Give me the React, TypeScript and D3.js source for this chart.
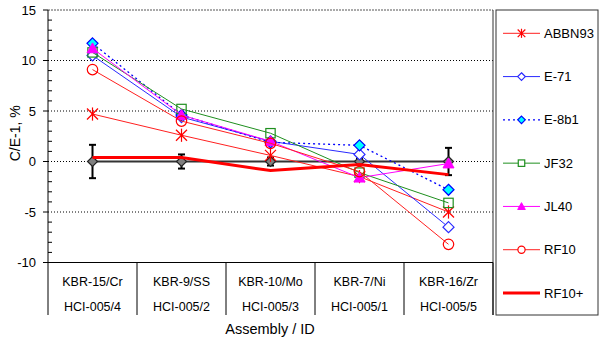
import React from "react";
import * as d3 from "d3";

const assemblies = ["KBR-15/Cr", "KBR-9/SS", "KBR-10/Mo", "KBR-7/Ni", "KBR-16/Zr"];
const ids = ["HCI-005/4", "HCI-005/2", "HCI-005/3", "HCI-005/1", "HCI-005/5"];
const yTicks = [-10, -5, 0, 5, 10, 15];
const gridValues = [-5, 0, 5, 10, 15];

const refValues = [0, 0, 0, 0, 0];
const refErrors = [1.65, 0.7, 0.4, 0.3, 1.35];

const abbn93 = [4.7, 2.6, 0.6, -1.5, -5.0];
const e71 = [10.5, 4.4, 2.0, 0.7, -6.5];
const e8b1 = [11.7, 4.6, 1.9, 1.6, -2.8];
const jf32 = [10.8, 5.2, 2.8, -1.1, -4.1];
const jl40 = [11.2, 4.6, 2.0, -1.6, -0.2];
const rf10 = [9.1, 4.0, 1.8, -1.0, -8.2];
const rf10plus = [0.4, 0.4, -0.9, -0.3, -1.3];

type Series = {
  name: string;
  values: number[];
  color: string;
  width: number;
  dash?: string;
  marker: "star" | "diamond" | "square" | "triangle" | "circle" | "none";
  fill: string;
  mstroke: string;
};

const series: Series[] = [
  { name: "ABBN93", values: abbn93, color: "#ff2020", width: 1, marker: "star", fill: "none", mstroke: "#ff0000" },
  { name: "E-71", values: e71, color: "#2a2aff", width: 1, marker: "diamond", fill: "#ffffff", mstroke: "#2a2aff" },
  { name: "E-8b1", values: e8b1, color: "#0000ff", width: 1.3, dash: "2,3", marker: "diamond", fill: "#00ffff", mstroke: "#0000ff" },
  { name: "JF32", values: jf32, color: "#1f8f1f", width: 1, marker: "square", fill: "none", mstroke: "#1f8f1f" },
  { name: "JL40", values: jl40, color: "#ff00ff", width: 1, marker: "triangle", fill: "#ff00ff", mstroke: "#ff00ff" },
  { name: "RF10", values: rf10, color: "#ff2020", width: 1, marker: "circle", fill: "none", mstroke: "#ff0000" },
  { name: "RF10+", values: rf10plus, color: "#ff0000", width: 3, marker: "none", fill: "none", mstroke: "#ff0000" },
];

const FONT = "'Liberation Sans', Arial, sans-serif";

function Marker({ type, x, y, s, fill, stroke }: { type: string; x: number; y: number; s: number; fill: string; stroke: string }) {
  if (type === "star") {
    return (
      <g stroke={stroke} strokeWidth={1.2}>
        <line x1={x - s} y1={y - s} x2={x + s} y2={y + s} />
        <line x1={x - s} y1={y + s} x2={x + s} y2={y - s} />
        <line x1={x} y1={y - s * 1.2} x2={x} y2={y + s * 1.2} />
      </g>
    );
  }
  if (type === "diamond") {
    const d = `M${x},${y - s}L${x + s},${y}L${x},${y + s}L${x - s},${y}Z`;
    return <path d={d} fill={fill} stroke={stroke} strokeWidth={1.2} />;
  }
  if (type === "square") {
    return <rect x={x - s * 0.85} y={y - s * 0.85} width={s * 1.7} height={s * 1.7} fill={fill} stroke={stroke} strokeWidth={1.2} />;
  }
  if (type === "triangle") {
    const d = `M${x},${y - s}L${x + s},${y + s * 0.8}L${x - s},${y + s * 0.8}Z`;
    return <path d={d} fill={fill} stroke={stroke} strokeWidth={1} />;
  }
  if (type === "circle") {
    return <circle cx={x} cy={y} r={s * 0.95} fill={fill} stroke={stroke} strokeWidth={1.2} />;
  }
  return null;
}

export default function App() {
  const left = 48;
  const right = 493;
  const top = 10;
  const bottom = 262.5;

  const x = d3.scaleBand<string>().domain(assemblies).range([left, right]).padding(0);
  const cx = (i: number) => (x(assemblies[i]) as number) + x.bandwidth() / 2;
  const y = d3.scaleLinear().domain([-10, 15]).range([bottom, top]);

  const line = d3
    .line<number>()
    .x((_, i) => cx(i))
    .y((v) => y(v));

  const minorTicks = d3.range(-10, 16, 1).filter((v) => v % 5 !== 0);
  const catBottom = 315;
  const legendY = d3.scaleLinear().domain([0, 6]).range([33.3, 293]);

  return (
    <svg width={599} height={342} style={{ position: "absolute", left: 0, top: 0, fontFamily: FONT }}>
      <rect x={0} y={0} width={599} height={342} fill="#ffffff" />
      {/* gridlines */}
      {gridValues.map((v) => (
        <line key={v} x1={left} x2={right} y1={y(v)} y2={y(v)} stroke={v === 15 ? "#555" : "#000"} strokeWidth={1} strokeDasharray={v === 15 ? "2,1" : "1,2"} />
      ))}
      {/* right border */}
      <line x1={right} x2={right} y1={top} y2={catBottom} stroke="#333" strokeWidth={1} />
      {/* y axis */}
      <line x1={left} x2={left} y1={top} y2={catBottom} stroke="#000" strokeWidth={1} />
      {yTicks.map((v) => (
        <g key={v}>
          <line x1={left - 5} x2={left} y1={y(v)} y2={y(v)} stroke="#000" />
          <text x={36} y={y(v)} dy="0.35em" textAnchor="end" fontSize={13} fill="#000">
            {v}
          </text>
        </g>
      ))}
      {minorTicks.map((v) => (
        <line key={v} x1={left} x2={left + 4} y1={y(v)} y2={y(v)} stroke="#000" />
      ))}
      {/* x axis */}
      <line x1={left} x2={right} y1={bottom} y2={bottom} stroke="#000" strokeWidth={1} />
      {assemblies.map((a, i) => (
        <g key={a}>
          <line x1={(x(a) as number) + x.bandwidth()} x2={(x(a) as number) + x.bandwidth()} y1={bottom} y2={catBottom} stroke="#000" />
          <text x={cx(i)} y={282} dy="0.35em" textAnchor="middle" fontSize={12.5} fill="#000">
            {a}
          </text>
          <text x={cx(i)} y={306.5} dy="0.35em" textAnchor="middle" fontSize={12.5} fill="#000">
            {ids[i]}
          </text>
        </g>
      ))}
      <text x={270} y={329} dy="0.35em" textAnchor="middle" fontSize={14.5} fill="#000">
        Assembly / ID
      </text>
      <text transform={`translate(15,${(top + bottom) / 2 - 3}) rotate(-90)`} dy="0.35em" textAnchor="middle" fontSize={14} fill="#000">
        C/E-1, %
      </text>

      {/* reference series */}
      <path d={line(refValues) as string} fill="none" stroke="#333" strokeWidth={2} />
      {refValues.map((v, i) => (
        <g key={i} stroke="#000" strokeWidth={2}>
          <line x1={cx(i)} x2={cx(i)} y1={y(v + refErrors[i])} y2={y(v - refErrors[i])} />
          <line x1={cx(i) - 3.5} x2={cx(i) + 3.5} y1={y(v + refErrors[i])} y2={y(v + refErrors[i])} />
          <line x1={cx(i) - 3.5} x2={cx(i) + 3.5} y1={y(v - refErrors[i])} y2={y(v - refErrors[i])} />
        </g>
      ))}
      {refValues.map((v, i) => (
        <Marker key={i} type="diamond" x={cx(i)} y={y(v)} s={5} fill="#808080" stroke="#222" />
      ))}

      {/* series */}
      {series.map((s) => (
        <g key={s.name}>
          <path d={line(s.values) as string} fill="none" stroke={s.color} strokeWidth={s.width} strokeDasharray={s.dash} />
          {s.values.map((v, i) => (
            <Marker key={i} type={s.marker} x={cx(i)} y={y(v)} s={5.5} fill={s.fill} stroke={s.mstroke} />
          ))}
        </g>
      ))}

      {/* legend */}
      <rect x={496} y={10} width={102} height={305} fill="#ffffff" stroke="#333" strokeWidth={1} />
      {series.map((s, i) => (
        <g key={s.name}>
          <line x1={503} x2={540} y1={legendY(i)} y2={legendY(i)} stroke={s.color} strokeWidth={s.width} strokeDasharray={s.dash} />
          <Marker type={s.marker} x={521.5} y={legendY(i)} s={3.8} fill={s.fill === "none" ? "#ffffff" : s.fill} stroke={s.mstroke} />
          <text x={544} y={legendY(i)} dy="0.35em" fontSize={13} fill="#000">
            {s.name}
          </text>
        </g>
      ))}
    </svg>
  );
}
